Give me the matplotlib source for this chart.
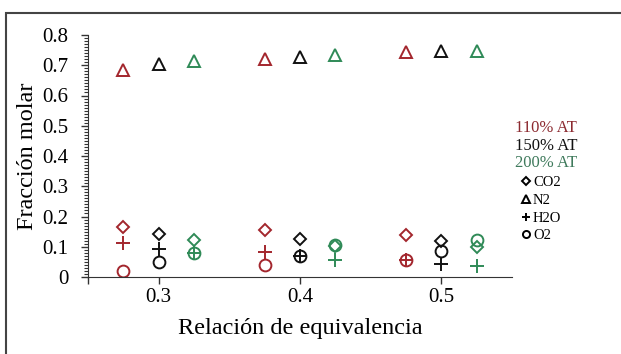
import matplotlib
matplotlib.use("Agg")
import matplotlib.pyplot as plt
from matplotlib.lines import Line2D
from matplotlib.patches import Rectangle
from matplotlib.ticker import MultipleLocator

plt.rcParams['font.family'] = 'Liberation Serif'

# Equivalence ratio positions for each air excess series
phi = [0.3, 0.4, 0.5]
offsets = {'110% AT': -0.025, '150% AT': 0.0, '200% AT': 0.025}
colors = {'110% AT': '#a3262d', '150% AT': '#111111', '200% AT': '#2f8a57'}
label_colors = {'110% AT': '#8c2a30', '150% AT': '#111111', '200% AT': '#3f7a5c'}

# Molar fractions per series, one value per equivalence ratio
co2 = {'110% AT': [0.165, 0.154, 0.140],
       '150% AT': [0.143, 0.127, 0.119],
       '200% AT': [0.121, 0.101, 0.099]}
n2 = {'110% AT': [0.684, 0.720, 0.745],
      '150% AT': [0.704, 0.728, 0.746],
      '200% AT': [0.715, 0.734, 0.748]}
h2o = {'110% AT': [0.112, 0.083, 0.055],
       '150% AT': [0.094, 0.069, 0.042],
       '200% AT': [0.080, 0.055, 0.036]}
o2 = {'110% AT': [0.020, 0.039, 0.057],
      '150% AT': [0.050, 0.069, 0.086],
      '200% AT': [0.080, 0.105, 0.121]}

species = [('CO2', co2, 'D', 6.5), ('N2', n2, '^', 9), ('H2O', h2o, '+', 10), ('O2', o2, 'o', 8.5)]

fig = plt.figure(figsize=(6.21, 3.54), dpi=100)
ax = fig.add_axes([88 / 621, 1 - 277 / 354, 424 / 621, 242 / 354])

for name, data, marker, ms in species:
    for series, vals in data.items():
        xs = [p + offsets[series] for p in phi]
        c = colors[series]
        if marker == '+':
            ax.plot(xs, vals, linestyle='none', marker=marker, ms=ms, mew=1.4, color=c)
        else:
            ax.plot(xs, vals, linestyle='none', marker=marker, ms=ms, mew=1.4,
                    mfc='none', mec=c)

ax.set_xlim(0.25, 0.55)
ax.set_ylim(0, 0.8)
ax.set_xticks([0.25, 0.3, 0.4, 0.5])
ax.set_xticklabels(['', '0.3', '0.4', '0.5'])
ax.set_yticks([0, 0.1, 0.2, 0.3, 0.4, 0.5, 0.6, 0.7, 0.8])
ax.set_yticklabels(['0', '0.1', '0.2', '0.3', '0.4', '0.5', '0.6', '0.7', '0.8'])
ax.yaxis.set_minor_locator(MultipleLocator(0.01))
ax.tick_params(axis='both', which='major', labelsize=15, length=5, width=1, color='#333333')
ax.tick_params(axis='x', which='major', pad=3)
ax.tick_params(axis='y', which='major', pad=9)
ax.tick_params(axis='y', which='minor', length=3, width=0.8, color='#333333')
for side in ['top', 'right']:
    ax.spines[side].set_visible(False)
for side in ['left', 'bottom']:
    ax.spines[side].set_color('#333333')

ax.set_xlabel('Relación de equivalencia', fontsize=17.5, labelpad=8)
ax.set_ylabel('Fracción molar', fontsize=17.5, labelpad=3)

# Series labels coloured by air excess
for i, series in enumerate(['110% AT', '150% AT', '200% AT']):
    fig.text(515 / 621, 1 - (128 + i * 17.5) / 354, series, fontsize=12,
             color=label_colors[series], va='center', ha='left')

handles = [Line2D([], [], linestyle='none', marker=m, ms=s * 0.6, mew=1.4,
                  color='black', mfc='none') for _, _, m, s in species]
fig.legend(handles, [s[0] for s in species], loc='upper left',
           bbox_to_anchor=(514 / 621, 1 - 169 / 354), frameon=False,
           fontsize=10.5, handlelength=0.6, handletextpad=0.2,
           labelspacing=0.3, borderpad=0)

# Outer frame around the figure
fig.patches.append(Rectangle((6 / 621, -0.1), 1.2, 1 - 13 / 354 + 0.1,
                             transform=fig.transFigure, fill=False,
                             edgecolor='#444444', linewidth=1.5))

fig.savefig('out.png', dpi=100)
